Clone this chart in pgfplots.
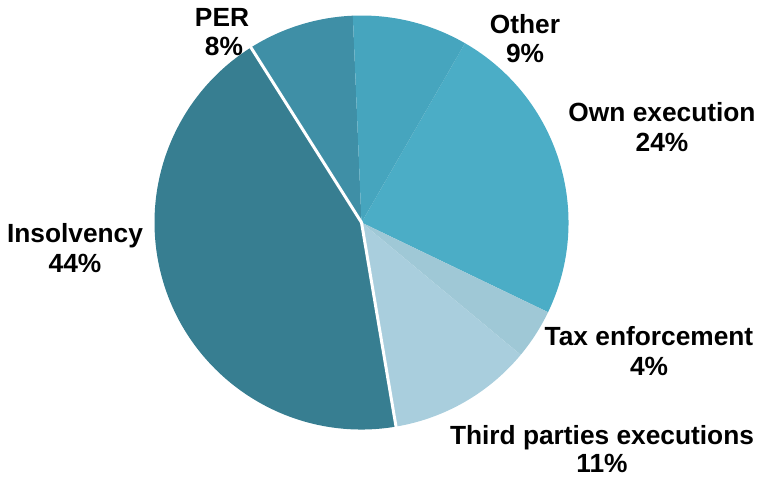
\documentclass[border=0pt]{standalone}
\usepackage{pgfplots}
\pgfplotsset{compat=1.18}
\usepackage{pgfplotstable}
\usetikzlibrary{calc}
\usepackage{fontspec}
\setmainfont{Liberation Sans}
\definecolor{cOwn}{HTML}{4BADC6}
\definecolor{cTax}{HTML}{9FC8D6}
\definecolor{cThird}{HTML}{A9CEDD}
\definecolor{cIns}{HTML}{377E91}
\definecolor{cPER}{HTML}{3F8FA6}
\definecolor{cOther}{HTML}{46A5BE}

% share of each slice (percent), clockwise from the Other/Own execution boundary
\pgfplotstableread[col sep=comma]{
name,value,col
Own execution,23.8,cOwn
Tax enforcement,3.9,cTax
Third parties executions,11.3,cThird
Insolvency,43.7,cIns
PER,8.3,cPER
Other,9.0,cOther
}\piedata

\begin{document}
\begin{tikzpicture}
\begin{axis}[width=760bp, height=477bp, scale only axis,
  xmin=0, xmax=760, ymin=0, ymax=477, y dir=reverse,
  hide axis, clip=false]
\path (axis cs:0,0) rectangle (axis cs:760,477);
\def\cx{361.5}\def\cy{222.5}\def\rr{207bp}
\pgfmathsetmacro{\cum}{30}
\pgfplotsforeachungrouped \i in {0,...,5}{%
  \pgfplotstablegetelem{\i}{value}\of\piedata
  \let\v\pgfplotsretval
  \pgfplotstablegetelem{\i}{col}\of\piedata
  \let\c\pgfplotsretval
  \pgfmathsetmacro{\a}{90-\cum}%
  \pgfmathsetmacro{\b}{\a-\v*3.6}%
  \expandafter\xdef\csname angA\i\endcsname{\a}%
  \expandafter\xdef\csname angB\i\endcsname{\b}%
  \edef\temp{\noexpand\fill[\c] (axis cs:\cx,\cy) -- ++(\a:\rr) arc[start angle=\a, end angle=\b, radius=\rr] -- cycle;}%
  \temp
  \pgfmathsetmacro{\cum}{\cum+\v*3.6}%
}
\edef\temp{\noexpand\draw[white, line width=3bp, line join=round] (axis cs:\cx,\cy) ++(\csname angA3\endcsname:\rr+3bp) -- (axis cs:\cx,\cy) -- ++(\csname angB3\endcsname:\rr+3bp);}
\temp

\tikzset{lab/.style={anchor=base, font=\bfseries\fontsize{26.4}{30}\selectfont, inner sep=0pt}}
\node[lab] at (axis cs:222,26.5) {PER};
\node[lab] at (axis cs:224,56) {8\%};
\node[lab] at (axis cs:525,33.5) {Other};
\node[lab] at (axis cs:525,62.5) {9\%};
\node[lab] at (axis cs:662,121.5) {Own execution};
\node[lab] at (axis cs:662,151.5) {24\%};
\node[lab] at (axis cs:75,242) {Insolvency};
\node[lab] at (axis cs:75,272.5) {44\%};
\node[lab] at (axis cs:649,345) {Tax enforcement};
\node[lab] at (axis cs:649,375) {4\%};
\node[lab] at (axis cs:602,444) {Third parties executions};
\node[lab] at (axis cs:602,472.5) {11\%};
\end{axis}
\end{tikzpicture}
\end{document}
